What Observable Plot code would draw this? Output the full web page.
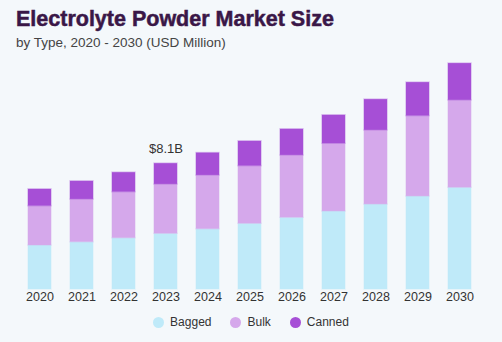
<!DOCTYPE html>
<html>
<head>
<meta charset="utf-8">
<script src="https://cdn.jsdelivr.net/npm/d3@7"></script>
<script src="https://cdn.jsdelivr.net/npm/@observablehq/plot@0.6"></script>
<style>
  html, body { margin: 0; padding: 0; background: #f4f8fb; }
  body { width: 502px; height: 342px; overflow: hidden; font-family: "Liberation Sans", Arial, sans-serif; }
  #head { position: relative; height: 56px; }
  #title { position: absolute; left: 16px; top: 9px; font-size: 21.5px; font-weight: bold; color: #3a1747; -webkit-text-stroke: 0.5px #3a1747; white-space: nowrap; line-height: 1; }
  #subtitle { position: absolute; left: 16px; top: 36px; font-size: 13.5px; color: #444; white-space: nowrap; line-height: 1; }
  #chart svg { display: block; }
  #legend { display: flex; justify-content: center; align-items: center; height: 20px; margin-top: 6px; font-size: 12px; color: #333; }
  .item { display: flex; align-items: center; margin: 0 9.5px; }
  .sw { width: 11px; height: 11px; border-radius: 50%; margin-right: 6px; }
</style>
</head>
<body>
<div id="head">
  <div id="title">Electrolyte Powder Market Size</div>
  <div id="subtitle">by Type, 2020 - 2030 (USD Million)</div>
</div>
<div id="chart"></div>
<div id="legend"></div>
<script>
const years = ["2020","2021","2022","2023","2024","2025","2026","2027","2028","2029","2030"];
const types = ["Bagged", "Bulk", "Canned"];
const bagged = [2835, 3048, 3305, 3589, 3885, 4233, 4620, 5026, 5477, 5992, 6553];
const bulk   = [2532, 2751, 2964, 3177, 3460, 3711, 4014, 4362, 4768, 5174, 5625];
const canned = [1076, 1160, 1250, 1334, 1437, 1591, 1675, 1823, 1978, 2152, 2365];
const colors = ["#bfeaf9", "#d5a8eb", "#a64fd6"];
const callout = { year: "2023", label: "$8.1B" };

const series = [bagged, bulk, canned];
const data = [];
years.forEach((y, i) => types.forEach((t, k) => data.push({ year: y, type: t, value: series[k][i] })));
const totals = years.map((y, i) => ({ year: y, total: bagged[i] + bulk[i] + canned[i] }));
const calloutData = totals.filter(d => d.year === callout.year).map(d => ({ ...d, label: callout.label }));

const chart = Plot.plot({
  width: 502,
  height: 250,
  marginTop: 0,
  marginBottom: 17,
  marginLeft: 18.5,
  marginRight: 21,
  style: { background: "transparent", fontFamily: "Liberation Sans, Arial, sans-serif" },
  x: { domain: years, paddingInner: 0.453, paddingOuter: 0.2265, label: null, tickSize: 0, tickPadding: 3 },
  y: { domain: [0, 15000], axis: null },
  color: { domain: types, range: colors },
  marks: [
    Plot.barY(data, {
      x: "year", y: "value", fill: "type", order: types,
      stroke: "type", strokeOpacity: 0.35, strokeWidth: 1.5
    }),
    Plot.text(calloutData, {
      x: "year", y: "total", text: "label", dy: -15,
      fontSize: 13, fill: "#333"
    }),
    Plot.axisX({ tickSize: 0, tickPadding: 3, fontSize: 12.5, color: "#333", label: null })
  ]
});
document.getElementById("chart").appendChild(chart);

const legend = document.getElementById("legend");
types.forEach((t, k) => {
  const it = document.createElement("div");
  it.className = "item";
  const sw = document.createElement("span");
  sw.className = "sw";
  sw.style.background = colors[k];
  const tx = document.createElement("span");
  tx.textContent = t;
  it.appendChild(sw); it.appendChild(tx);
  legend.appendChild(it);
});
</script>
</body>
</html>
